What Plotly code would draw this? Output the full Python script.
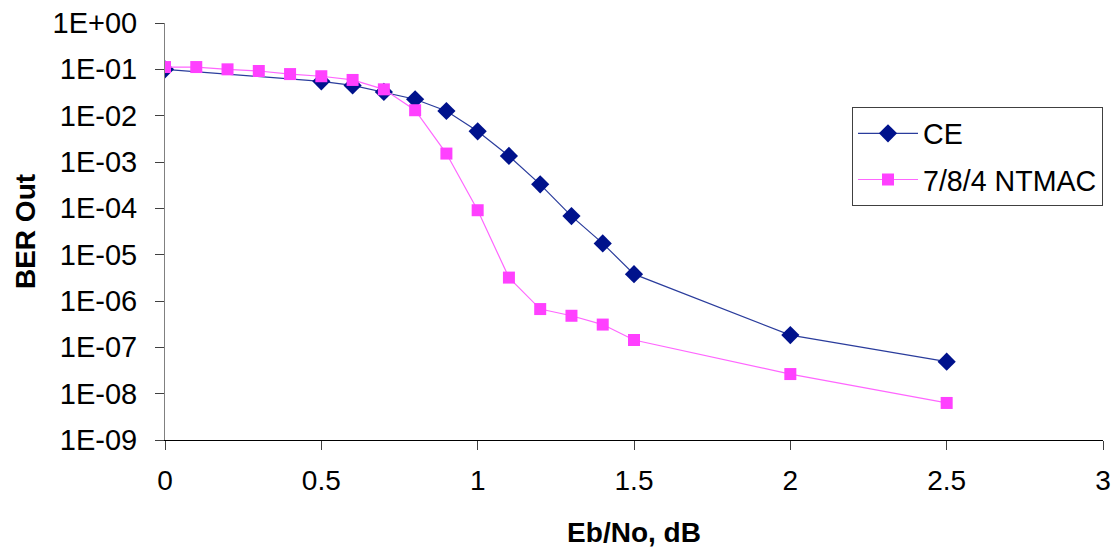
import plotly.graph_objects as go

ce_x = [0, 0.5, 0.6, 0.7, 0.8, 0.9, 1.0, 1.1, 1.2, 1.3, 1.4, 1.5, 2.0, 2.5]
ce = [1.0e-1, 5.5e-2, 4.5e-2, 3.25e-2, 2.26e-2, 1.26e-2,
      4.6e-3, 1.35e-3, 3.3e-4, 6.8e-5, 1.75e-5, 3.8e-6, 1.84e-7, 4.9e-8]
ntmac_x = [0, 0.1, 0.2, 0.3, 0.4, 0.5, 0.6, 0.7, 0.8, 0.9, 1.0, 1.1, 1.2, 1.3, 1.4, 1.5, 2.0, 2.5]
ntmac = [1.12e-1, 1.12e-1, 1.0e-1, 9.2e-2, 7.9e-2, 7.1e-2, 5.9e-2, 3.7e-2, 1.31e-2, 1.52e-3,
         9.1e-5, 3.2e-6, 6.7e-7, 4.8e-7, 3.1e-7, 1.44e-7, 2.65e-8, 6.3e-9]

y_tick_vals = [1e0, 1e-1, 1e-2, 1e-3, 1e-4, 1e-5, 1e-6, 1e-7, 1e-8, 1e-9]
y_tick_text = ["1E+00", "1E-01", "1E-02", "1E-03", "1E-04", "1E-05", "1E-06", "1E-07", "1E-08", "1E-09"]
x_tick_vals = [0, 0.5, 1, 1.5, 2, 2.5, 3]
x_tick_text = ["0", "0.5", "1", "1.5", "2", "2.5", "3"]

FONT = "Liberation Sans, Arial, sans-serif"

fig = go.Figure()
fig.add_trace(go.Scatter(
    x=ce_x, y=ce, name="CE", mode="lines+markers", legendgroup="a",
    line=dict(color="#2A3C9C", width=1.2),
    marker=dict(symbol="diamond", size=14, color="#00128C"),
))
fig.add_trace(go.Scatter(
    x=ntmac_x, y=ntmac, name="7/8/4 NTMAC", mode="lines+markers", legendgroup="b",
    line=dict(color="#FF66FF", width=1.2),
    marker=dict(symbol="square", size=12, color="#FF40FF"),
))

fig.update_layout(
    width=1112, height=548,
    margin=dict(l=165, r=9, t=23, b=108),
    paper_bgcolor="white", plot_bgcolor="white",
    font=dict(family=FONT, size=28, color="black"),
    showlegend=True,
    legend=dict(
        x=1, y=0.798, xanchor="right", yanchor="top",
        bgcolor="white", bordercolor="#404040", borderwidth=1,
        font=dict(size=28.6), itemwidth=60, tracegroupgap=6,
        traceorder="grouped",
    ),
    xaxis=dict(
        range=[0, 3], tickvals=x_tick_vals, ticktext=x_tick_text,
        showgrid=False, zeroline=False, showline=True, linecolor="black", linewidth=1,
        ticks="outside", ticklen=9, tickcolor="#404040", automargin=False,
        tickfont=dict(size=28), ticklabelstandoff=6,
        title=dict(text="<b>Eb/No, dB</b>", font=dict(size=28), standoff=27),
    ),
    yaxis=dict(
        type="log", range=[-9, 0], tickvals=y_tick_vals, ticktext=y_tick_text,
        showgrid=False, zeroline=False, showline=True, linecolor="#808080", linewidth=1,
        ticks="outside", ticklen=9, tickcolor="#404040", automargin=False,
        tickfont=dict(size=29), ticklabelstandoff=12,
        title=dict(text="<b>BER Out</b>", font=dict(size=28), standoff=8),
    ),
)

fig.write_html(
    "out.html",
    config={"displayModeBar": False},
    post_script="document.body.style.margin='0';document.documentElement.style.overflow='hidden';",
)
